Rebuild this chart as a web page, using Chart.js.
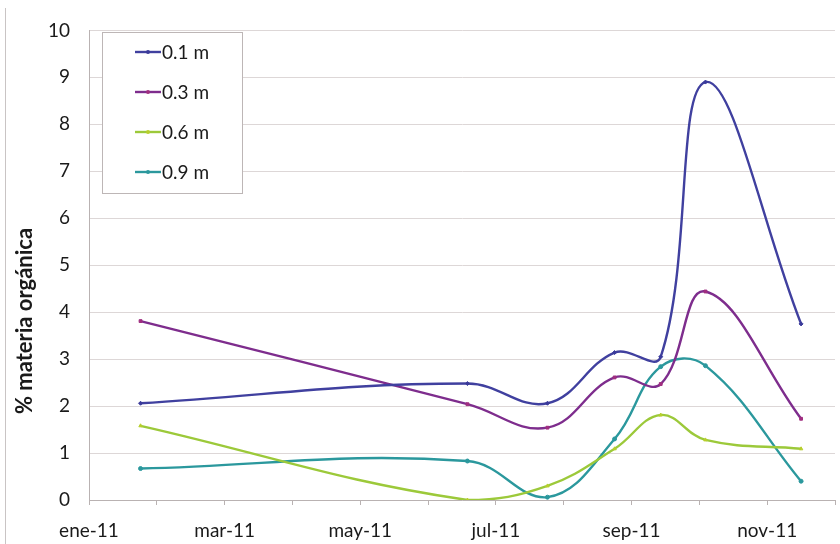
<!DOCTYPE html>
<html>
<head>
<meta charset="utf-8">
<script src="https://cdn.jsdelivr.net/npm/chart.js@4"></script>
<style>
  html, body { margin: 0; padding: 0; background: #fff; }
  .chart-wrap { position: relative; width: 840px; height: 544px; }
  .chart-wrap .edge { position: absolute; left: 5px; top: 8px; bottom: 0; border-left: 1px solid #c9c4c4; }
</style>
</head>
<body>
<div class="chart-wrap">
  <canvas id="omChart" width="840" height="544"></canvas>
  <div class="edge"></div>
</div>
<script>
// month index 0 = ene-11 ... 11 = dic-11
const monthLabels = ['ene-11', 'feb-11', 'mar-11', 'abr-11', 'may-11', 'jun-11',
                     'jul-11', 'ago-11', 'sep-11', 'oct-11', 'nov-11', 'dic-11'];
const sampleMonths = [0.76, 5.58, 6.76, 7.75, 8.43, 9.09, 10.5];

const seriesNames = ['0.1 m', '0.3 m', '0.6 m', '0.9 m'];
const om01 = [2.06, 2.48, 2.06, 3.14, 3.05, 8.90, 3.75];
const om03 = [3.81, 2.04, 1.54, 2.61, 2.47, 4.44, 1.73];
const om06 = [1.58, 0.00, 0.30, 1.09, 1.81, 1.28, 1.09];
const om09 = [0.67, 0.83, 0.06, 1.30, 2.84, 2.86, 0.40];

const yTicks = [0, 1, 2, 3, 4, 5, 6, 7, 8, 9, 10];
const yTitle = '% materia orgánica';

const FONT = 'Lato, "Open Sans", sans-serif';
const lineColors = ['#40409f', '#7e2d8d', '#9cc93a', '#2b989d'];
const markColors = ['#3a3a9a', '#a02f80', '#b7cf2c', '#2b989d'];
const markStyles = ['rectRot', 'rect', 'triangle', 'circle'];

function toPoints(vals) {
  return vals.map((v, i) => ({ x: sampleMonths[i], y: v }));
}

const datasets = [om01, om03, om06, om09].map((vals, i) => ({
  label: seriesNames[i],
  data: toPoints(vals),
  borderColor: lineColors[i],
  backgroundColor: markColors[i],
  pointBackgroundColor: markColors[i],
  pointBorderColor: markColors[i],
  pointStyle: markStyles[i],
  pointRadius: 2,
  pointBorderWidth: 1,
  borderWidth: 2.4,
  tension: 0.4,
  fill: false,
}));

// legend box drawn inside the plot, like the original sheet chart
const boxLegend = {
  id: 'boxLegend',
  afterDraw(chart) {
    const ctx = chart.ctx;
    ctx.save();
    ctx.strokeStyle = '#bdb6b6';
    ctx.lineWidth = 1;
    ctx.fillStyle = '#fff';
    ctx.fillRect(102.5, 32.5, 140, 161);
    ctx.strokeRect(102.5, 32.5, 140, 161);
    ctx.font = '19px ' + FONT;
    ctx.textBaseline = 'middle';
    chart.data.datasets.forEach((ds, i) => {
      const y = 52 + i * 40;
      ctx.strokeStyle = ds.borderColor;
      ctx.lineWidth = 2.4;
      ctx.beginPath(); ctx.moveTo(135, y); ctx.lineTo(161, y); ctx.stroke();
      ctx.fillStyle = ds.pointBackgroundColor;
      ctx.beginPath(); ctx.arc(148, y, 2, 0, Math.PI * 2); ctx.fill();
      ctx.fillStyle = '#1a1a1a';
      ctx.fillText(ds.label, 162, y + 1);
    });
    // y axis title, sits a bit lower than centre in the original
    ctx.translate(25, 321);
    ctx.rotate(-Math.PI / 2);
    ctx.textAlign = 'center';
    ctx.font = 'bold 22px ' + FONT;
    ctx.fillStyle = '#1a1a1a';
    ctx.fillText(yTitle, 0, 0);
    ctx.restore();
  }
};

new Chart(document.getElementById('omChart').getContext('2d'), {
  type: 'line',
  data: { datasets },
  options: {
    responsive: false,
    animation: false,
    layout: { padding: { left: 0, top: 25, right: 1, bottom: 0 } },
    plugins: { legend: { display: false }, tooltip: { enabled: false } },
    scales: {
      x: {
        type: 'linear', min: 0, max: 11,
        afterFit: (s) => { s.height = 44; s.paddingLeft = 0; s.paddingRight = 0; },
        afterBuildTicks: (s) => { s.ticks = monthLabels.map((_, i) => ({ value: i })); },
        ticks: {
          autoSkip: false, maxRotation: 0, padding: 14,
          color: '#1a1a1a', font: { family: FONT, size: 19 },
          callback: (v) => (v % 2 === 0 ? monthLabels[v] : ''),
        },
        grid: { drawOnChartArea: false, tickLength: 5, color: '#b9b2b2' },
        border: { color: '#b9b2b2' },
      },
      y: {
        min: 0, max: 10,
        afterFit: (s) => { s.width = 89; },
        afterBuildTicks: (s) => { s.ticks = yTicks.map((v) => ({ value: v })); },
        ticks: { padding: 19, color: '#1a1a1a', font: { family: FONT, size: 19 } },
        grid: { color: '#ddd7d7', drawTicks: false },
        border: { color: '#b9b2b2' },
      },
    },
  },
  plugins: [boxLegend],
});
</script>
</body>
</html>
